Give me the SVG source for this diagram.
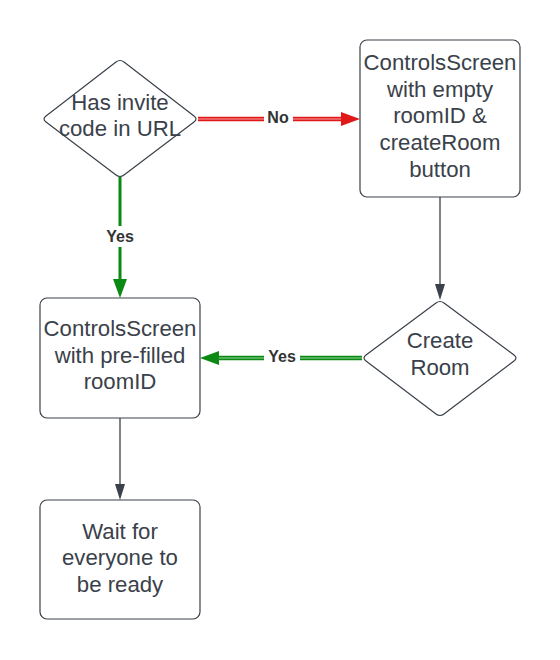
<svg xmlns="http://www.w3.org/2000/svg" width="560" height="660" viewBox="0 0 560 660">
<style>
.shape{fill:#ffffff;stroke:#3a414a;stroke-width:1.2}
.t{font-family:"Liberation Sans",Arial,sans-serif;font-size:22.2px;fill:#3a414a;text-anchor:middle}
.lbl{font-family:"Liberation Sans",Arial,sans-serif;font-size:16px;font-weight:bold;fill:#333333;text-anchor:middle}
.gray{stroke:#3a414a;stroke-width:1.3;fill:none}
</style>
<rect width="560" height="660" fill="#ffffff"/>
<g id="connectors">
  <g id="edge-no">
    <line x1="198" y1="119" x2="342" y2="119" stroke="#e01818" stroke-width="4.5"/>
    <line x1="198" y1="119" x2="342" y2="119" stroke="#f7a3a3" stroke-width="1.2"/>
    <polygon points="341,112 360,119 341,126" fill="#e01818"/>
    <rect x="264" y="108" width="29" height="20" fill="#ffffff"/>
    <text class="lbl" x="278" y="123">No</text>
  </g>
  <g id="edge-yes1">
    <line x1="120" y1="177" x2="120" y2="280" stroke="#0a8a12" stroke-width="3"/>
    <polygon points="113,279 120,298 127,279" fill="#0a8a12"/>
    <rect x="102" y="226" width="36" height="21" fill="#ffffff"/>
    <text class="lbl" x="120" y="242">Yes</text>
  </g>
  <g id="edge-yes2">
    <line x1="362" y1="358" x2="218" y2="358" stroke="#0a8a12" stroke-width="4.5"/>
    <line x1="362" y1="358" x2="218" y2="358" stroke="#9bd49e" stroke-width="1.2"/>
    <polygon points="219,351 200,358 219,365" fill="#0a8a12"/>
    <rect x="264" y="347" width="36" height="21" fill="#ffffff"/>
    <text class="lbl" x="282" y="362">Yes</text>
  </g>
  <g id="edge-create">
    <line class="gray" x1="440" y1="197" x2="440" y2="285"/>
    <polygon points="435,284 440,300 445,284" fill="#3a414a"/>
  </g>
  <g id="edge-wait">
    <line class="gray" x1="120" y1="418" x2="120" y2="485"/>
    <polygon points="115,484 120,500 125,484" fill="#3a414a"/>
  </g>
</g>
<g id="node-invite">
  <path class="shape" d="M116,62 Q120,59 124,62 L194,116 Q198,119 194,122 L124,175 Q120,178 116,175 L46,122 Q42,119 46,116 Z"/>
  <text class="t" x="120" y="110">Has invite</text>
  <text class="t" x="120" y="136">code in URL</text>
</g>
<g id="node-empty">
  <rect class="shape" x="360" y="40" width="160" height="157" rx="7"/>
  <text class="t" x="440" y="70">ControlsScreen</text>
  <text class="t" x="440" y="96.7">with empty</text>
  <text class="t" x="440" y="123.3">roomID &amp;</text>
  <text class="t" x="440" y="150">createRoom</text>
  <text class="t" x="440" y="176.7">button</text>
</g>
<g id="node-create">
  <path class="shape" d="M436,303 Q440,300 444,303 L514,355 Q518,358 514,361 L444,414 Q440,417 436,414 L366,361 Q362,358 366,355 Z"/>
  <text class="t" x="440" y="348">Create</text>
  <text class="t" x="440" y="375">Room</text>
</g>
<g id="node-prefilled">
  <rect class="shape" x="40" y="298" width="160" height="120" rx="7"/>
  <text class="t" x="120" y="336">ControlsScreen</text>
  <text class="t" x="120" y="363">with pre-filled</text>
  <text class="t" x="120" y="389">roomID</text>
</g>
<g id="node-wait">
  <rect class="shape" x="40" y="500" width="160" height="119" rx="7"/>
  <text class="t" x="120" y="539">Wait for</text>
  <text class="t" x="120" y="565">everyone to</text>
  <text class="t" x="120" y="592">be ready</text>
</g>
</svg>
